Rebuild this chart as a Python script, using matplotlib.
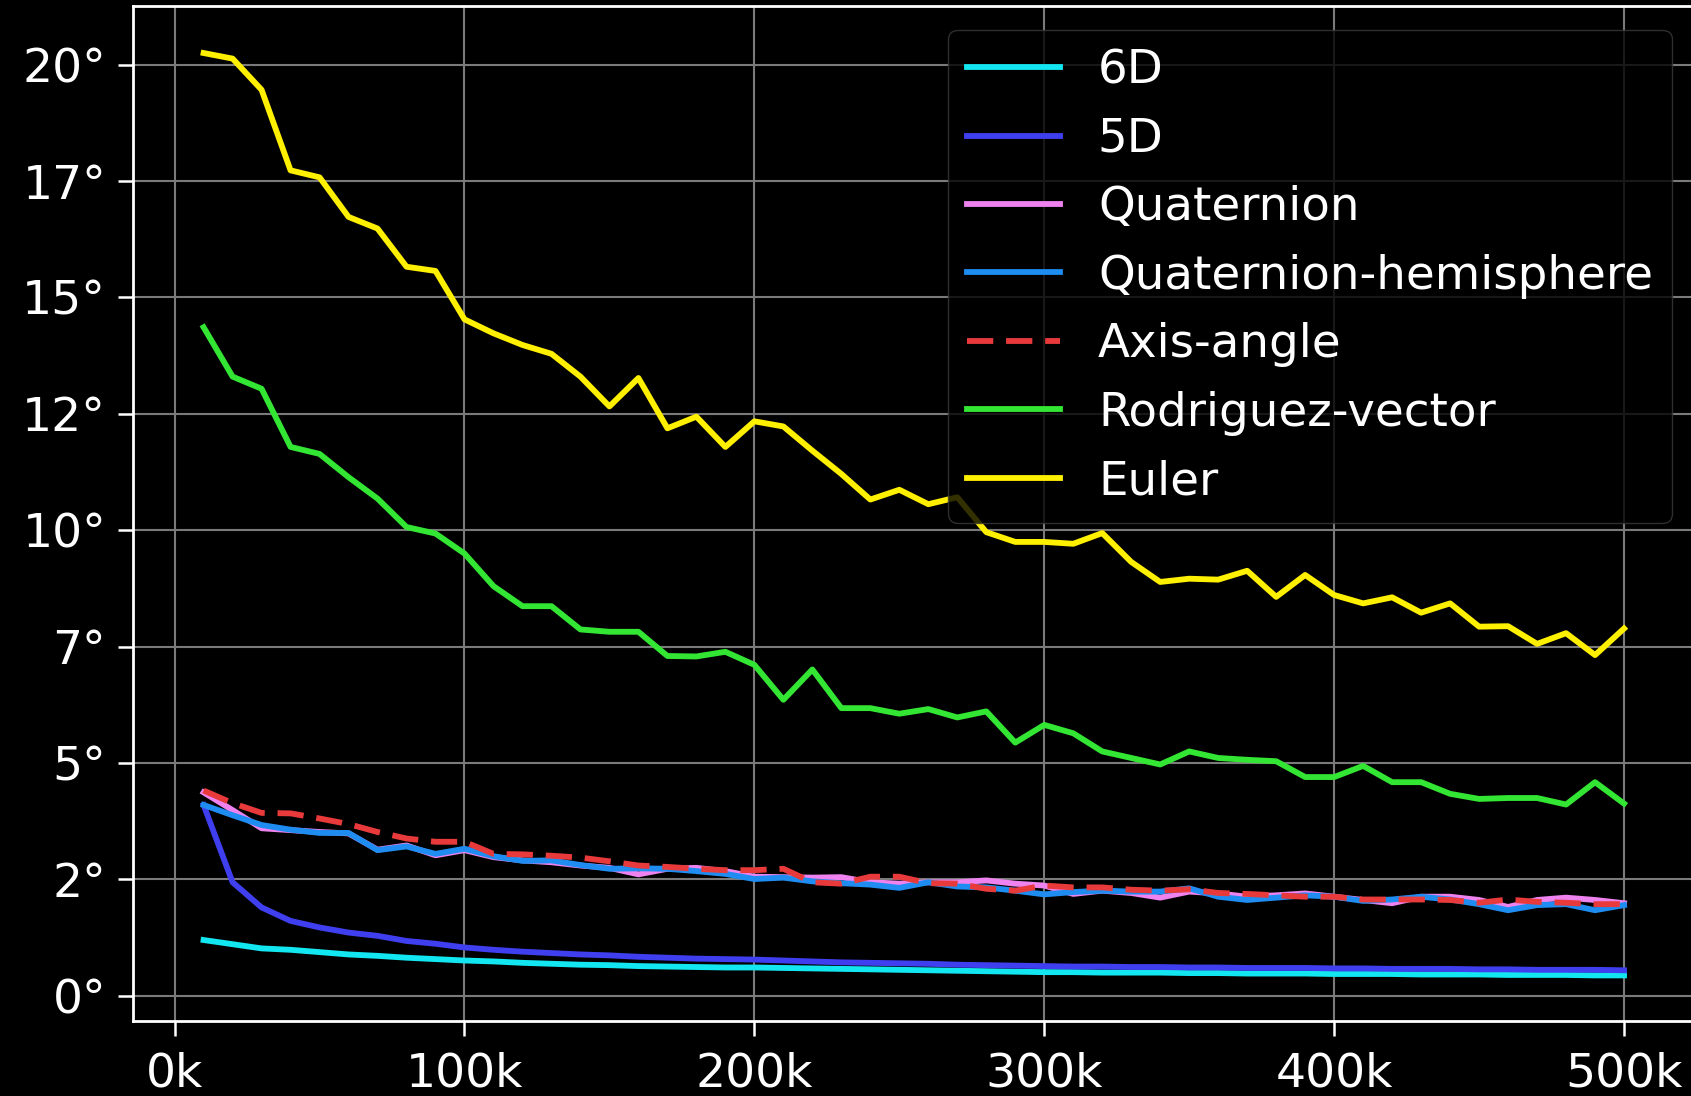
import numpy as np
import matplotlib
matplotlib.use("Agg")
import matplotlib.pyplot as plt
from matplotlib.ticker import FuncFormatter

plt.style.use("dark_background")
plt.rcParams['font.family'] = ['DejaVu Sans']

# training iterations (10k .. 500k)
iters = np.arange(10000, 500001, 10000)

# mean angular error in degrees
err_6d = [1.20, 1.11, 1.02, 0.99, 0.94, 0.89, 0.86, 0.82, 0.79, 0.76,
          0.74, 0.71, 0.69, 0.67, 0.66, 0.64, 0.63, 0.62, 0.61, 0.61,
          0.60, 0.59, 0.58, 0.57, 0.56, 0.55, 0.54, 0.53, 0.52, 0.51,
          0.51, 0.50, 0.50, 0.50, 0.49, 0.49, 0.48, 0.48, 0.48, 0.47,
          0.47, 0.47, 0.46, 0.46, 0.46, 0.45, 0.45, 0.45, 0.44, 0.44]
err_5d = [4.10, 2.44, 1.90, 1.61, 1.47, 1.36, 1.29, 1.18, 1.12, 1.04,
          0.99, 0.95, 0.92, 0.89, 0.87, 0.84, 0.82, 0.80, 0.79, 0.78,
          0.76, 0.74, 0.72, 0.71, 0.70, 0.69, 0.67, 0.66, 0.65, 0.64,
          0.63, 0.63, 0.62, 0.62, 0.61, 0.61, 0.60, 0.60, 0.60, 0.59,
          0.59, 0.58, 0.58, 0.58, 0.57, 0.57, 0.56, 0.56, 0.56, 0.55]
err_quat = [4.37, 3.99, 3.60, 3.56, 3.52, 3.49, 3.14, 3.23, 3.02, 3.13,
            2.98, 2.91, 2.87, 2.80, 2.75, 2.61, 2.73, 2.75, 2.68, 2.56,
            2.55, 2.54, 2.55, 2.44, 2.41, 2.44, 2.44, 2.48, 2.41, 2.37,
            2.19, 2.26, 2.21, 2.11, 2.24, 2.20, 2.13, 2.16, 2.20, 2.13,
            2.06, 1.99, 2.13, 2.13, 2.06, 1.91, 2.06, 2.11, 2.06, 1.99]
err_quat_hemi = [4.10, 3.88, 3.67, 3.57, 3.50, 3.50, 3.13, 3.21, 3.05, 3.16,
                 3.00, 2.90, 2.91, 2.81, 2.73, 2.74, 2.73, 2.68, 2.62, 2.51,
                 2.54, 2.46, 2.42, 2.39, 2.32, 2.44, 2.35, 2.33, 2.26, 2.18,
                 2.23, 2.26, 2.24, 2.24, 2.31, 2.13, 2.06, 2.11, 2.16, 2.13,
                 2.04, 2.07, 2.13, 2.07, 1.97, 1.84, 1.95, 1.97, 1.84, 1.95]
err_axis_angle = [4.41, 4.14, 3.93, 3.92, 3.81, 3.69, 3.52, 3.38, 3.31, 3.31,
                  3.05, 3.04, 3.01, 2.97, 2.89, 2.80, 2.77, 2.73, 2.70, 2.70,
                  2.73, 2.44, 2.41, 2.56, 2.56, 2.42, 2.41, 2.30, 2.26, 2.37,
                  2.33, 2.33, 2.28, 2.26, 2.29, 2.21, 2.19, 2.16, 2.13, 2.13,
                  2.07, 2.07, 2.07, 2.06, 2.00, 2.07, 2.02, 2.00, 1.97, 1.97]
err_rodrigues = [14.36, 13.30, 13.04, 11.79, 11.64, 11.14, 10.68, 10.07, 9.93, 9.50,
                 8.80, 8.37, 8.37, 7.87, 7.82, 7.82, 7.30, 7.29, 7.39, 7.11,
                 6.36, 7.01, 6.18, 6.18, 6.06, 6.16, 5.98, 6.11, 5.44, 5.82,
                 5.64, 5.25, 5.11, 4.97, 5.25, 5.11, 5.07, 5.04, 4.70, 4.70,
                 4.94, 4.59, 4.59, 4.34, 4.23, 4.25, 4.25, 4.11, 4.59, 4.13]
err_euler = [20.25, 20.13, 19.46, 17.73, 17.58, 16.73, 16.48, 15.66, 15.57, 14.53,
             14.23, 13.98, 13.79, 13.30, 12.66, 13.27, 12.19, 12.44, 11.79, 12.34,
             12.23, 11.71, 11.21, 10.66, 10.87, 10.56, 10.71, 9.96, 9.75, 9.75,
             9.71, 9.94, 9.32, 8.89, 8.96, 8.94, 9.13, 8.57, 9.04, 8.61,
             8.43, 8.56, 8.23, 8.43, 7.93, 7.94, 7.56, 7.79, 7.32, 7.89]

labels = ['6D', '5D', 'Quaternion', 'Quaternion-hemisphere',
          'Axis-angle', 'Rodriguez-vector', 'Euler']
series = [err_6d, err_5d, err_quat, err_quat_hemi,
          err_axis_angle, err_rodrigues, err_euler]
colors = ['#12e6f0', '#3f3ff0', '#ee82ee', '#1e8cf0',
          '#e83a3a', '#33e633', '#fff000']

fig = plt.figure(figsize=(16.91, 10.96), dpi=100)
fig.patch.set_facecolor('black')
# right edge of the axes sits just outside the frame, as in the reference
ax = fig.add_axes([0.0784, 0.0684, 0.924, 0.9257])
ax.set_facecolor('black')

for vals, lab, col in zip(series, labels, colors):
    if lab == 'Axis-angle':
        ax.plot(iters, vals, color=col, lw=4.2, dashes=(4.5, 2.2), label=lab)
    else:
        ax.plot(iters, vals, color=col, lw=4.2, label=lab)

ax.set_xlim(-14500, 524500)
ax.set_ylim(-0.54, 21.25)
ax.set_xticks(np.arange(0, 500001, 100000))
ax.set_yticks(np.arange(0, 20.1, 2.5))
ax.xaxis.set_major_formatter(FuncFormatter(lambda v, p: f"{int(v / 1000)}k"))
ax.yaxis.set_major_formatter(FuncFormatter(lambda v, p: f"{int(v)}°"))

ax.grid(True, color='#7a7a7a', lw=1.5)
ax.set_axisbelow(True)
for s in ax.spines.values():
    s.set_color('white')
    s.set_linewidth(2)
ax.tick_params(axis='both', colors='white', labelsize=34, length=11, width=1.8)
ax.tick_params(axis='x', pad=11)
ax.tick_params(axis='y', pad=8)

leg = ax.legend(loc='upper right', fontsize=33.7, facecolor='black',
                edgecolor='#3a3a3a', framealpha=0.8)
for t in leg.get_texts():
    t.set_color('white')

fig.savefig('out.png', dpi=100, facecolor='black')
